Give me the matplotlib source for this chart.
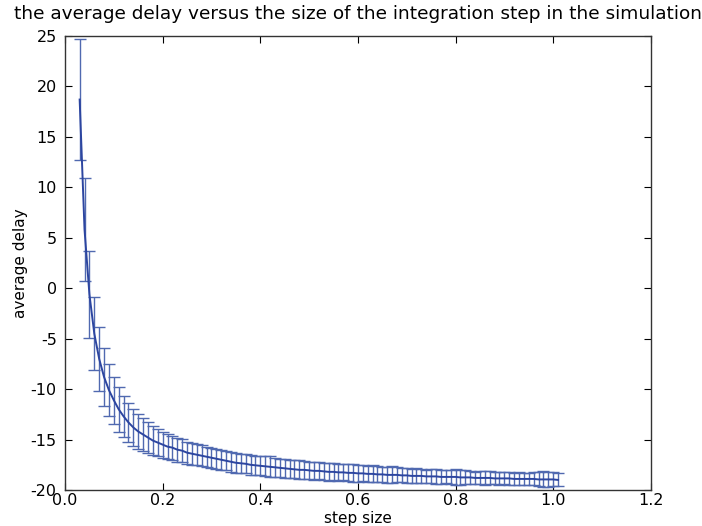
#!/usr/bin/env python3
import matplotlib
matplotlib.use("Agg")
import matplotlib.pyplot as plt

# step sizes used in the simulation
step_size = [0.03, 0.04, 0.05, 0.06, 0.07, 0.08, 0.09, 0.10, 0.11, 0.12,
             0.13, 0.14, 0.15, 0.16, 0.17, 0.18, 0.19, 0.20, 0.21, 0.22,
             0.23, 0.24, 0.25, 0.26, 0.27, 0.28, 0.29, 0.30, 0.31, 0.32,
             0.33, 0.34, 0.35, 0.36, 0.37, 0.38, 0.39, 0.40, 0.41, 0.42,
             0.43, 0.44, 0.45, 0.46, 0.47, 0.48, 0.49, 0.50, 0.51, 0.52,
             0.53, 0.54, 0.55, 0.56, 0.57, 0.58, 0.59, 0.60, 0.61, 0.62,
             0.63, 0.64, 0.65, 0.66, 0.67, 0.68, 0.69, 0.70, 0.71, 0.72,
             0.73, 0.74, 0.75, 0.76, 0.77, 0.78, 0.79, 0.80, 0.81, 0.82,
             0.83, 0.84, 0.85, 0.86, 0.87, 0.88, 0.89, 0.90, 0.91, 0.92,
             0.93, 0.94, 0.95, 0.96, 0.97, 0.98, 0.99, 1.00, 1.01]

avg_delay = [18.7, 5.8, -0.6, -4.5, -7.0, -8.8, -10.1, -11.1, -12.0, -12.7,
             -13.3, -13.8, -14.2, -14.5, -14.8, -15.1, -15.3, -15.5, -15.7, -15.8,
             -16.0, -16.1, -16.3, -16.4, -16.5, -16.6, -16.7, -16.8, -16.9, -17.0,
             -17.1, -17.2, -17.3, -17.35, -17.4, -17.5, -17.55, -17.6, -17.65, -17.7,
             -17.75, -17.8, -17.85, -17.9, -17.95, -18.0, -18.0, -18.05, -18.1, -18.1,
             -18.15, -18.2, -18.2, -18.25, -18.25, -18.3, -18.3, -18.35, -18.35, -18.4,
             -18.4, -18.45, -18.45, -18.5, -18.5, -18.5, -18.55, -18.55, -18.6, -18.6,
             -18.6, -18.65, -18.65, -18.65, -18.7, -18.7, -18.7, -18.7, -18.75, -18.75,
             -18.75, -18.8, -18.8, -18.8, -18.8, -18.85, -18.85, -18.85, -18.85, -18.9,
             -18.9, -18.9, -18.9, -18.9, -18.95, -18.95, -18.95, -18.95, -19.0]

delay_err = [6.0, 5.1, 4.3, 3.6, 3.2, 2.9, 2.6, 2.35, 2.2, 2.0,
             1.9, 1.8, 1.7, 1.6, 1.5, 1.4, 1.35, 1.3, 1.25, 1.2,
             1.2, 1.15, 1.1, 1.1, 1.05, 1.05, 1.0, 1.0, 1.0, 1.0,
             0.95, 1.0, 1.0, 0.95, 0.95, 1.0, 0.95, 0.95, 1.0, 1.05,
             0.95, 0.9, 0.95, 0.9, 0.9, 0.95, 0.9, 0.85, 0.9, 0.85,
             0.85, 0.9, 0.85, 0.85, 0.8, 0.85, 0.9, 0.85, 0.8, 0.8,
             0.85, 0.8, 0.75, 0.8, 0.85, 0.75, 0.7, 0.75, 0.7, 0.75,
             0.7, 0.65, 0.7, 0.75, 0.7, 0.65, 0.7, 0.8, 0.75, 0.7,
             0.65, 0.6, 0.65, 0.7, 0.65, 0.6, 0.65, 0.6, 0.65, 0.6,
             0.65, 0.6, 0.6, 0.65, 0.7, 0.8, 0.75, 0.7, 0.65]

xticks = [0.0, 0.2, 0.4, 0.6, 0.8, 1.0, 1.2]
yticks = [-20, -15, -10, -5, 0, 5, 10, 15, 20, 25]

plt.rcParams['font.family'] = ['DejaVu Sans']
plt.rcParams['font.size'] = 12

fig = plt.figure(figsize=(7.02, 5.26), dpi=100)
ax = fig.add_axes([0.0926, 0.0684, 0.8345, 0.8632])

ax.errorbar(step_size, avg_delay, yerr=delay_err, color='#2c45a0', linewidth=1.4,
            ecolor='#5069b0', elinewidth=1.0, capsize=4, capthick=1.0)

ax.set_xlim(0.0, 1.2)
ax.set_ylim(-20, 25)
ax.set_xticks(xticks)
ax.set_xticklabels(["%.1f" % t for t in xticks])
ax.set_yticks(yticks)
ax.set_yticklabels([str(t) for t in yticks])
ax.tick_params(direction='in', top=True, right=True, length=5, width=0.8,
               labelsize=11.5)
ax.tick_params(axis='x', pad=2)
ax.tick_params(axis='y', pad=6)
for s in ax.spines.values():
    s.set_linewidth(1.0)
    s.set_color('#333333')

ax.set_xlabel("step size", fontsize=11, labelpad=2)
ax.set_ylabel("average delay", fontsize=11, labelpad=2)
ax.set_title("the average delay versus the size of the integration step in the simulation",
             fontsize=13.3, pad=12)

plt.savefig("out.png", dpi=100)
plt.close()
